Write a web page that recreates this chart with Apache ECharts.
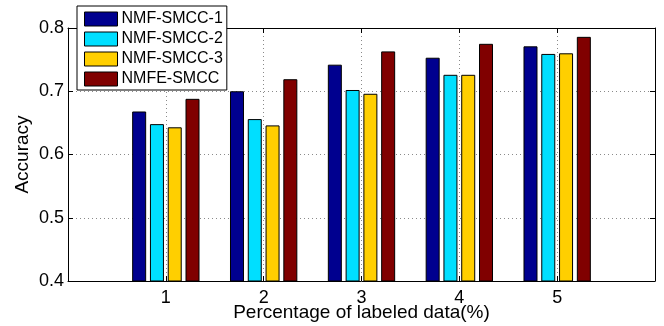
<!DOCTYPE html>
<html>
<head>
<meta charset="utf-8">
<script src="https://cdn.jsdelivr.net/npm/echarts@6/dist/echarts.min.js"></script>
<style>
  html, body { margin: 0; padding: 0; background: #fff; }
  #chart { width: 664px; height: 326px; }
</style>
</head>
<body>
<div id="chart"></div>
<script>
// Accuracy of each method versus percentage of labeled data
const percentages = [1, 2, 3, 4, 5];
const seriesNames = ['NMF-SMCC-1', 'NMF-SMCC-2', 'NMF-SMCC-3', 'NMFE-SMCC'];
const nmfSmcc1 = [0.668, 0.700, 0.742, 0.753, 0.771];
const nmfSmcc2 = [0.648, 0.656, 0.702, 0.726, 0.759];
const nmfSmcc3 = [0.643, 0.646, 0.696, 0.726, 0.760];
const nmfeSmcc = [0.688, 0.719, 0.763, 0.775, 0.786];
const seriesColors = ['#00008f', '#00dfff', '#ffcf00', '#800000'];

const allValues = [nmfSmcc1, nmfSmcc2, nmfSmcc3, nmfeSmcc];
const FONT = '"Liberation Sans", Arial, Helvetica, sans-serif';

const gridLine = { show: true, lineStyle: { color: '#8a8a8a', type: [1, 3], width: 1 } };
const axisLine = { show: true, onZero: false, lineStyle: { color: '#000', width: 1 } };
const tick = { show: true, inside: true, length: 5, lineStyle: { color: '#000', width: 1 } };

const chart = echarts.init(document.getElementById('chart'), null, { renderer: 'canvas' });

chart.setOption({
  animation: false,
  backgroundColor: '#fff',
  textStyle: { fontFamily: FONT, color: '#000' },
  grid: { left: 68, right: 9, top: 28, bottom: 45, containLabel: false, outerBoundsMode: 'none' },
  legend: {
    data: seriesNames,
    orient: 'vertical',
    left: 77,
    top: 6,
    padding: [5, 4, 3, 7],
    itemWidth: 33,
    itemHeight: 14,
    itemGap: 4,
    icon: 'rect',
    backgroundColor: '#fff',
    borderColor: '#000',
    borderWidth: 1,
    itemStyle: { borderColor: '#000', borderWidth: 1 },
    textStyle: { fontFamily: FONT, fontSize: 16, color: '#000', padding: [0, 0, 0, -1] }
  },
  xAxis: [
    {
      type: 'value', min: 0, max: 6, interval: 1,
      position: 'bottom',
      name: 'Percentage of labeled data(%)',
      nameLocation: 'middle', nameGap: 22, nameMoveOverlap: false,
      nameTextStyle: { fontFamily: FONT, fontSize: 19, color: '#000' },
      axisLine: axisLine, axisTick: tick,
      axisLabel: {
        fontFamily: FONT, fontSize: 18, color: '#000', margin: 8,
        formatter: v => (percentages.indexOf(v) >= 0 ? String(v) : '')
      },
      splitLine: gridLine
    },
    {
      type: 'value', min: 0, max: 6, interval: 1,
      position: 'top',
      axisLine: axisLine, axisTick: tick,
      axisLabel: { show: false }, splitLine: { show: false }
    }
  ],
  yAxis: [
    {
      type: 'value', min: 0.4, max: 0.8, interval: 0.1,
      position: 'left',
      name: 'Accuracy',
      nameLocation: 'middle', nameGap: 36, nameMoveOverlap: false,
      nameTextStyle: { fontFamily: FONT, fontSize: 19, color: '#000' },
      axisLine: axisLine, axisTick: tick,
      axisLabel: {
        fontFamily: FONT, fontSize: 18, color: '#000', margin: 4,
        formatter: v => v.toFixed(1)
      },
      splitLine: gridLine
    },
    {
      type: 'value', min: 0.4, max: 0.8, interval: 0.1,
      position: 'right',
      axisLine: axisLine, axisTick: tick,
      axisLabel: { show: false }, splitLine: { show: false }
    }
  ],
  series: seriesNames.map((name, i) => ({
    name: name,
    type: 'bar',
    xAxisIndex: 0,
    yAxisIndex: 0,
    barWidth: 14,
    barGap: '27%',
    clip: true,
    itemStyle: { color: seriesColors[i], borderColor: '#000', borderWidth: 1 },
    data: percentages.map((p, j) => [p, allValues[i][j]])
  }))
});
</script>
</body>
</html>
